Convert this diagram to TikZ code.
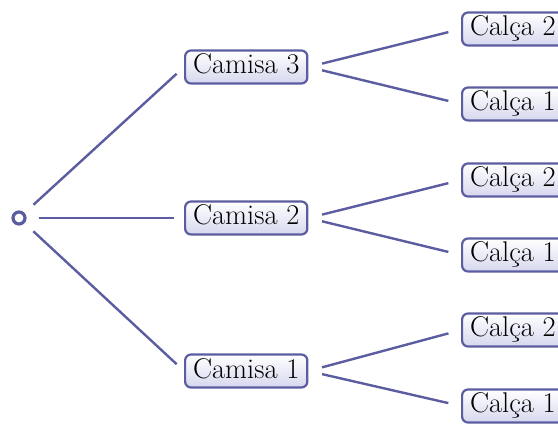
\documentclass[tikz,border=0pt]{standalone}
\definecolor{edge}{HTML}{5C5DA0}
\definecolor{lav}{HTML}{D6D7EE}
\begin{document}
\begin{tikzpicture}[x=1pt,y=-1pt,
  box/.style={draw=edge,line width=2.2pt,rounded corners=6pt,top color=white,bottom color=lav,
    inner xsep=8pt,inner ysep=0pt,minimum height=33pt,text height=20pt,text depth=6pt,
    font=\fontsize{28.5}{33}\selectfont,anchor=west},
  conn/.style={draw=edge,line width=2.4pt}]
\useasboundingbox (0,0) rectangle (558,425);
\fill[white] (0,0) rectangle (558,425);
\node[circle,draw=edge,line width=3.2pt,fill=white,inner sep=0pt,minimum size=12pt] (r) at (19,218) {};
\node[box] (c3) at (184,67) {Camisa 3};
\node[box] (c2) at (184,218) {Camisa 2};
\node[box] (c1) at (184,371) {Camisa 1};
\node[box] (p6) at (461,29) {Calça 2};
\node[box] (p5) at (461,104) {Calça 1};
\node[box] (p4) at (461,180) {Calça 2};
\node[box] (p3) at (461,255) {Calça 1};
\node[box] (p2) at (461,330) {Calça 2};
\node[box] (p1) at (461,406) {Calça 1};
\foreach \c in {c3,c2,c1}
  \draw[conn,shorten <=12pt,shorten >=10pt] (r) -- (\c.west);
\draw[conn,shorten <=14pt,shorten >=13pt] (c3.east) -- (p6.west);
\draw[conn,shorten <=14pt,shorten >=13pt] (c3.east) -- (p5.west);
\draw[conn,shorten <=14pt,shorten >=13pt] (c2.east) -- (p4.west);
\draw[conn,shorten <=14pt,shorten >=13pt] (c2.east) -- (p3.west);
\draw[conn,shorten <=14pt,shorten >=13pt] (c1.east) -- (p2.west);
\draw[conn,shorten <=14pt,shorten >=13pt] (c1.east) -- (p1.west);
\end{tikzpicture}
\end{document}
